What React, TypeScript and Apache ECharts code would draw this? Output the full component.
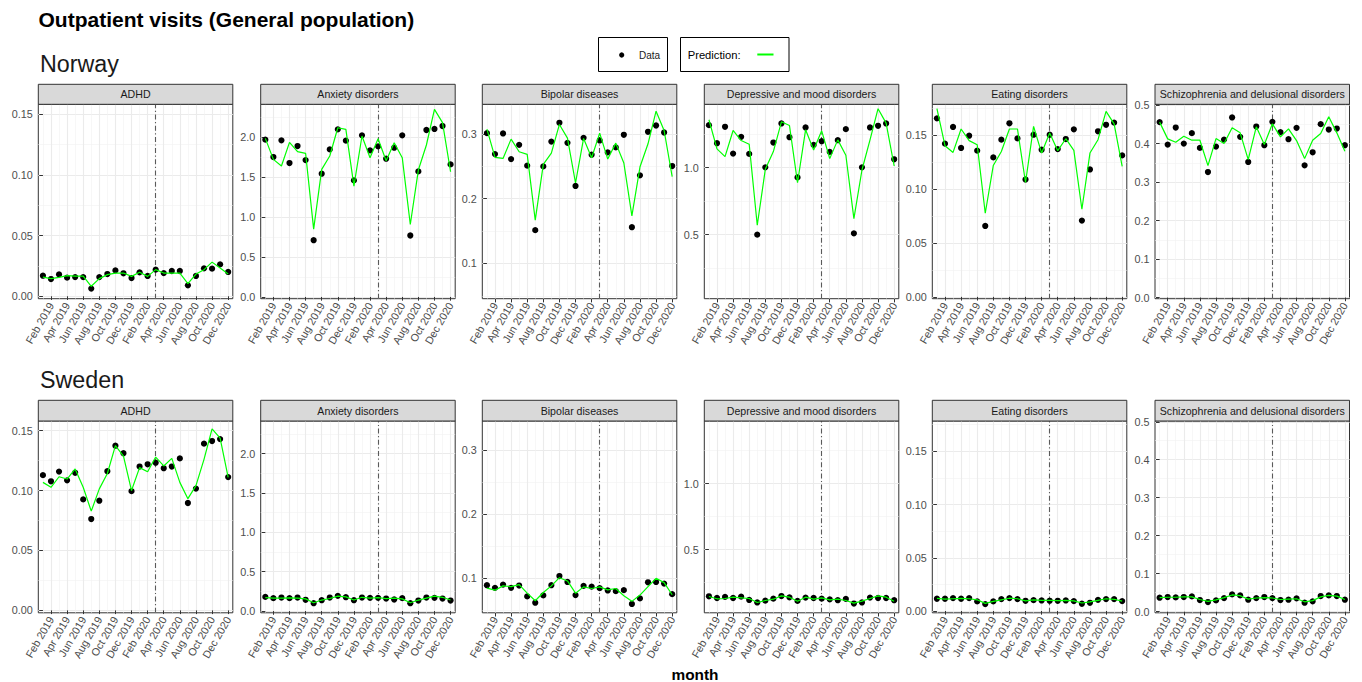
import React, { useEffect, useRef } from "react";
import * as echarts from "echarts";

const FONT = '"Liberation Sans", Arial, Helvetica, sans-serif';

// ---------- categories / ticks ----------
const months = [
  "Jan 2019", "Feb 2019", "Mar 2019", "Apr 2019", "May 2019", "Jun 2019",
  "Jul 2019", "Aug 2019", "Sep 2019", "Oct 2019", "Nov 2019", "Dec 2019",
  "Jan 2020", "Feb 2020", "Mar 2020", "Apr 2020", "May 2020", "Jun 2020",
  "Jul 2020", "Aug 2020", "Sep 2020", "Oct 2020", "Nov 2020", "Dec 2020",
];
const xMajorTicks = [1, 3, 5, 7, 9, 11, 13, 15, 17, 19, 21, 23];
const xMinorTicks = [0, 2, 4, 6, 8, 10, 12, 14, 16, 18, 20, 22];
const interventionMonth = 14; // Mar 2020

const diagnoses = [
  "ADHD",
  "Anxiety disorders",
  "Bipolar diseases",
  "Depressive and mood disorders",
  "Eating disorders",
  "Schizophrenia and delusional disorders",
];
const countries = ["Norway", "Sweden"];

const adhdTicks = [0, 0.05, 0.1, 0.15];
const adhdMinor = [0.025, 0.075, 0.125];
const anxietyTicks = [0, 0.5, 1.0, 1.5, 2.0];
const anxietyMinor = [0.25, 0.75, 1.25, 1.75, 2.25];
const bipolarTicks = [0.1, 0.2, 0.3];
const bipolarMinor = [0.05, 0.15, 0.25];
const depressiveTicks = [0.5, 1.0];
const depressiveMinor = [0.25, 0.75, 1.25];
const eatingTicks = [0, 0.05, 0.1, 0.15];
const eatingMinor = [0.025, 0.075, 0.125, 0.175];
const schizoTicks = [0, 0.1, 0.2, 0.3, 0.4, 0.5];
const schizoMinor = [0.05, 0.15, 0.25, 0.35, 0.45];

// ---------- Norway ----------
const norwayAdhdData = [0.0169, 0.0142, 0.018, 0.0153, 0.0158, 0.0158, 0.0063, 0.0158, 0.0183, 0.0213, 0.0189, 0.015, 0.0197, 0.0167, 0.0219, 0.0191, 0.0208, 0.0208, 0.009, 0.0167, 0.023, 0.0227, 0.0262, 0.02];
const norwayAdhdPred = [0.0158, 0.0145, 0.0155, 0.017, 0.0165, 0.0165, 0.0082, 0.0145, 0.0178, 0.0191, 0.0191, 0.0164, 0.0197, 0.0164, 0.0219, 0.0191, 0.0191, 0.0191, 0.0104, 0.0183, 0.0219, 0.0281, 0.0232, 0.0183];
const norwayAnxietyData = [1.971, 1.753, 1.962, 1.678, 1.891, 1.715, 0.711, 1.544, 1.849, 2.1, 1.958, 1.46, 2.025, 1.837, 1.887, 1.732, 1.87, 2.025, 0.77, 1.573, 2.092, 2.105, 2.142, 1.661];
const norwayAnxietyPred = [1.987, 1.724, 1.64, 1.937, 1.82, 1.8, 0.85, 1.598, 1.766, 2.12, 2.1, 1.389, 2.017, 1.745, 1.983, 1.707, 1.933, 1.745, 0.908, 1.59, 1.904, 2.351, 2.184, 1.569];
const norwayBipolarData = [0.301, 0.2687, 0.3005, 0.261, 0.283, 0.2508, 0.1513, 0.2497, 0.288, 0.317, 0.286, 0.2195, 0.2938, 0.2677, 0.2897, 0.2713, 0.279, 0.2985, 0.1559, 0.2359, 0.3031, 0.3128, 0.302, 0.2503];
const norwayBipolarPred = [0.3072, 0.2636, 0.262, 0.2918, 0.2723, 0.2682, 0.1667, 0.2528, 0.2703, 0.3144, 0.2933, 0.2241, 0.2928, 0.2631, 0.301, 0.261, 0.2856, 0.2549, 0.1733, 0.2487, 0.2846, 0.3349, 0.3051, 0.234];
const norwayDepressiveData = [1.3175, 1.1825, 1.305, 1.105, 1.23, 1.1025, 0.5, 1.0025, 1.1875, 1.33, 1.2275, 0.9275, 1.3, 1.17, 1.1975, 1.1175, 1.205, 1.2875, 0.51, 1.0025, 1.3, 1.3125, 1.33, 1.0625];
const norwayDepressivePred = [1.3575, 1.14, 1.0825, 1.2775, 1.2025, 1.175, 0.57, 0.9875, 1.12, 1.3425, 1.315, 0.8875, 1.2825, 1.1325, 1.275, 1.0675, 1.2075, 1.0925, 0.62, 0.9825, 1.2075, 1.44, 1.3325, 1.0125];
const norwayEatingData = [0.1655, 0.142, 0.1575, 0.138, 0.1494, 0.1355, 0.0657, 0.1293, 0.1457, 0.1609, 0.1469, 0.1088, 0.1503, 0.1364, 0.1503, 0.137, 0.1463, 0.1553, 0.0707, 0.1181, 0.1535, 0.1595, 0.1615, 0.1311];
const norwayEatingPred = [0.1745, 0.1401, 0.1339, 0.1556, 0.1448, 0.141, 0.0775, 0.1218, 0.1348, 0.1556, 0.1556, 0.106, 0.158, 0.1333, 0.1519, 0.1355, 0.1466, 0.1358, 0.0812, 0.1333, 0.1457, 0.172, 0.1603, 0.1209];
const norwaySchizoData = [0.4557, 0.3974, 0.4417, 0.4, 0.427, 0.3887, 0.326, 0.3922, 0.4104, 0.4678, 0.4174, 0.3522, 0.4443, 0.3957, 0.4565, 0.4296, 0.4113, 0.4409, 0.3435, 0.3774, 0.4504, 0.4365, 0.4391, 0.3957];
const norwaySchizoPred = [0.4557, 0.4122, 0.4035, 0.4191, 0.4087, 0.4087, 0.3426, 0.413, 0.4, 0.4409, 0.4278, 0.3583, 0.4435, 0.3974, 0.4513, 0.4174, 0.4383, 0.4078, 0.3609, 0.4087, 0.4261, 0.4696, 0.4278, 0.38];

// ---------- Sweden ----------
const swedenAdhdData = [0.1128, 0.1077, 0.1158, 0.1085, 0.1148, 0.0926, 0.0762, 0.0915, 0.1161, 0.1374, 0.1311, 0.0995, 0.12, 0.1219, 0.1232, 0.1186, 0.12, 0.1268, 0.0896, 0.1016, 0.1391, 0.1413, 0.1429, 0.1112];
const swedenAdhdPred = [0.1068, 0.1027, 0.1115, 0.1096, 0.118, 0.1027, 0.0828, 0.1014, 0.1142, 0.1374, 0.1287, 0.1, 0.1191, 0.1156, 0.1279, 0.1205, 0.1268, 0.1068, 0.0932, 0.1041, 0.126, 0.1514, 0.1437, 0.1109];
const swedenAnxietyData = [0.18, 0.164, 0.172, 0.164, 0.172, 0.143, 0.1, 0.138, 0.172, 0.193, 0.176, 0.138, 0.172, 0.168, 0.168, 0.159, 0.147, 0.164, 0.1, 0.134, 0.172, 0.168, 0.159, 0.134];
const swedenAnxietyPred = [0.17, 0.165, 0.165, 0.168, 0.165, 0.155, 0.105, 0.14, 0.16, 0.19, 0.18, 0.14, 0.175, 0.165, 0.17, 0.158, 0.165, 0.155, 0.105, 0.14, 0.165, 0.19, 0.175, 0.14];
const swedenBipolarData = [0.0887, 0.0846, 0.0897, 0.0846, 0.0882, 0.0712, 0.0614, 0.0728, 0.0887, 0.1031, 0.0938, 0.0733, 0.0877, 0.0866, 0.0841, 0.0805, 0.0794, 0.081, 0.0594, 0.0681, 0.0933, 0.0938, 0.0913, 0.0748];
const swedenBipolarPred = [0.0841, 0.081, 0.0877, 0.0866, 0.0897, 0.0763, 0.0645, 0.0774, 0.0877, 0.1005, 0.0954, 0.0763, 0.0861, 0.0836, 0.0861, 0.0815, 0.0836, 0.0722, 0.0635, 0.0733, 0.0866, 0.0995, 0.0928, 0.0738];
const swedenDepressiveData = [0.147, 0.134, 0.142, 0.134, 0.144, 0.119, 0.1, 0.114, 0.129, 0.149, 0.139, 0.112, 0.137, 0.134, 0.129, 0.124, 0.117, 0.127, 0.092, 0.1, 0.137, 0.134, 0.134, 0.117];
const swedenDepressivePred = [0.145, 0.128, 0.13, 0.14, 0.135, 0.13, 0.1, 0.115, 0.125, 0.15, 0.14, 0.11, 0.14, 0.125, 0.135, 0.12, 0.125, 0.115, 0.095, 0.11, 0.13, 0.15, 0.14, 0.11];
const swedenEatingData = [0.0115, 0.0115, 0.0121, 0.0115, 0.0121, 0.009, 0.0065, 0.009, 0.0112, 0.0121, 0.0112, 0.0096, 0.0102, 0.0099, 0.0096, 0.0096, 0.0099, 0.0093, 0.0068, 0.0077, 0.0105, 0.0112, 0.0112, 0.0093];
const swedenEatingPred = [0.0118, 0.0112, 0.0115, 0.0118, 0.0115, 0.0105, 0.0072, 0.009, 0.0105, 0.012, 0.0115, 0.0095, 0.0105, 0.01, 0.01, 0.0098, 0.01, 0.0095, 0.0075, 0.0085, 0.01, 0.0115, 0.011, 0.0092];
const swedenSchizoData = [0.0367, 0.0385, 0.0376, 0.0385, 0.0402, 0.0306, 0.0253, 0.0297, 0.0358, 0.0455, 0.0428, 0.0315, 0.0358, 0.0385, 0.0358, 0.0306, 0.0315, 0.035, 0.0236, 0.0271, 0.0411, 0.0428, 0.0411, 0.0315];
const swedenSchizoPred = [0.037, 0.038, 0.038, 0.039, 0.039, 0.032, 0.027, 0.031, 0.037, 0.044, 0.042, 0.033, 0.036, 0.037, 0.036, 0.032, 0.033, 0.034, 0.026, 0.029, 0.039, 0.043, 0.041, 0.032];

// ---------- panel definitions ----------
const columns = [
  { min: -0.002, max: 0.158, ticks: adhdTicks, minor: adhdMinor, dec: 2, data: [[norwayAdhdData, norwayAdhdPred], [swedenAdhdData, swedenAdhdPred]] },
  { min: -0.022, max: 2.414, ticks: anxietyTicks, minor: anxietyMinor, dec: 1, data: [[norwayAnxietyData, norwayAnxietyPred], [swedenAnxietyData, swedenAnxietyPred]] },
  { min: 0.0456, max: 0.3455, ticks: bipolarTicks, minor: bipolarMinor, dec: 1, data: [[norwayBipolarData, norwayBipolarPred], [swedenBipolarData, swedenBipolarPred]] },
  { min: 0.022, max: 1.473, ticks: depressiveTicks, minor: depressiveMinor, dec: 1, data: [[norwayDepressiveData, norwayDepressivePred], [swedenDepressiveData, swedenDepressivePred]] },
  { min: -0.0017, max: 0.1785, ticks: eatingTicks, minor: eatingMinor, dec: 2, data: [[norwayEatingData, norwayEatingPred], [swedenEatingData, swedenEatingPred]] },
  { min: -0.003, max: 0.502, ticks: schizoTicks, minor: schizoMinor, dec: 1, data: [[norwaySchizoData, norwaySchizoPred], [swedenSchizoData, swedenSchizoPred]] },
];

// layout (pixels)
const colLeft = [38.3, 260.7, 482.3, 704.3, 932.3, 1155];
const colWidth = 194.5;
const rowStripTop = [84.3, 400.3];
const rowPanelTop = [104.3, 421];
const rowPanelBottom = [298.7, 612.8];
const rowTitleY = [63.6, 379.6];
const X_MIN = -0.575;
const X_MAX = 23.575;

function buildOption() {
  const grid: any[] = [];
  const xAxis: any[] = [];
  const yAxis: any[] = [];
  const series: any[] = [];
  const graphic: any[] = [];

  const tickStyle = { color: "#333333", width: 1 };
  const labelBase = { color: "#4D4D4D", fontSize: 10.8, fontFamily: FONT };

  countries.forEach((country, r) => {
    graphic.push({
      type: "text",
      x: 40,
      y: rowTitleY[r],
      style: { text: country, fill: "#1A1A1A", fontSize: 23.3, fontFamily: FONT, textAlign: "left", align: "left", textVerticalAlign: "middle", verticalAlign: "middle" },
    });
    columns.forEach((col, c) => {
      const k = r * 6 + c;
      const top = rowPanelTop[r];
      const height = rowPanelBottom[r] - top;
      grid.push({
        left: colLeft[c], top, width: colWidth, height,
        show: true, borderColor: "#333333", borderWidth: 1, backgroundColor: "#FFFFFF",
        containLabel: false, outerBoundsMode: "none",
      });
      xAxis.push({
        type: "value", gridIndex: k, min: X_MIN, max: X_MAX,
        axisLine: { show: false },
        axisTick: { show: true, customValues: xMajorTicks, length: 3.7, lineStyle: tickStyle },
        axisLabel: { ...labelBase, customValues: xMajorTicks, rotate: 60, margin: 4.5, formatter: (v: number) => months[Math.round(v)] },
        splitLine: { show: true, lineStyle: { color: "#EBEBEB", width: 1.1 } },
      });
      xAxis.push({
        type: "value", gridIndex: k, min: X_MIN, max: X_MAX,
        axisLine: { show: false },
        axisTick: { show: false, customValues: xMinorTicks },
        axisLabel: { show: false },
        splitLine: { show: true, lineStyle: { color: "#F2F2F2", width: 0.6 } },
      });
      yAxis.push({
        type: "value", gridIndex: k, min: col.min, max: col.max,
        axisLine: { show: false },
        axisTick: { show: true, customValues: col.ticks, length: 3.7, lineStyle: tickStyle },
        axisLabel: { ...labelBase, customValues: col.ticks, margin: 5.5, formatter: (v: number) => v.toFixed(col.dec) },
        splitLine: { show: true, lineStyle: { color: "#EBEBEB", width: 1.1 } },
      });
      yAxis.push({
        type: "value", gridIndex: k, min: col.min, max: col.max,
        axisLine: { show: false },
        axisTick: { show: false, customValues: col.minor },
        axisLabel: { show: false },
        splitLine: { show: true, lineStyle: { color: "#F2F2F2", width: 0.6 } },
      });
      const [obs, pred] = col.data[r];
      series.push({
        type: "scatter", name: "Data", xAxisIndex: 2 * k, yAxisIndex: 2 * k,
        data: obs.map((v, i) => [i, v]), symbol: "circle", symbolSize: 6.2,
        itemStyle: { color: "#000000", opacity: 1 }, z: 3, silent: true,
        markLine: {
          silent: true, symbol: ["none", "none"], label: { show: false }, z: 1,
          lineStyle: { color: "#5A5A5A", width: 1.1, type: [5, 2.5, 1.2, 2.5], opacity: 1 },
          data: [{ xAxis: interventionMonth }],
        },
      });
      series.push({
        type: "line", name: "Prediction", xAxisIndex: 2 * k, yAxisIndex: 2 * k,
        data: pred.map((v, i) => [i, v]), symbol: "none", showSymbol: false,
        lineStyle: { color: "#00FF00", width: 1.2 }, z: 4, silent: true,
      });
      // strip
      graphic.push({
        type: "rect",
        shape: { x: colLeft[c], y: rowStripTop[r], width: colWidth, height: top - rowStripTop[r] },
        style: { fill: "#D9D9D9", stroke: "#333333", lineWidth: 1 },
        z: 10,
      });
      graphic.push({
        type: "text",
        x: colLeft[c] + colWidth / 2,
        y: (rowStripTop[r] + top) / 2,
        style: { text: diagnoses[c], fill: "#1A1A1A", fontSize: 10.6, fontFamily: FONT, textAlign: "center", align: "center", textVerticalAlign: "middle", verticalAlign: "middle" },
        z: 11,
      });
    });
  });

  // main title
  graphic.push({
    type: "text", x: 38.5, y: 19.4,
    style: { text: "Outpatient visits (General population)", fill: "#000000", fontSize: 21, fontWeight: "bold", fontFamily: FONT, textAlign: "left", align: "left", textVerticalAlign: "middle", verticalAlign: "middle" },
  });
  // legend boxes
  graphic.push({ type: "rect", shape: { x: 598.5, y: 37.5, width: 69, height: 34 }, style: { fill: "#FFFFFF", stroke: "#000000", lineWidth: 1 } });
  graphic.push({ type: "circle", shape: { cx: 621.7, cy: 55, r: 2.6 }, style: { fill: "#000000" } });
  graphic.push({
    type: "text", x: 639, y: 55,
    style: { text: "Data", fill: "#1A1A1A", fontSize: 10, fontFamily: FONT, textAlign: "left", align: "left", textVerticalAlign: "middle", verticalAlign: "middle" },
  });
  graphic.push({ type: "rect", shape: { x: 680.5, y: 37.5, width: 108.5, height: 34 }, style: { fill: "#FFFFFF", stroke: "#000000", lineWidth: 1 } });
  graphic.push({
    type: "text", x: 687.7, y: 55,
    style: { text: "Prediction:", fill: "#000000", fontSize: 11.2, fontFamily: FONT, textAlign: "left", align: "left", textVerticalAlign: "middle", verticalAlign: "middle" },
  });
  graphic.push({ type: "line", shape: { x1: 757.3, y1: 54.5, x2: 773.5, y2: 54.5 }, style: { stroke: "#00FF00", lineWidth: 2 } });
  // x-axis title
  graphic.push({
    type: "text", x: 695, y: 674.5,
    style: { text: "month", fill: "#000000", fontSize: 15.4, fontWeight: "bold", fontFamily: FONT, textAlign: "center", align: "center", textVerticalAlign: "middle", verticalAlign: "middle" },
  });

  return {
    animation: false,
    backgroundColor: "#FFFFFF",
    textStyle: { fontFamily: FONT },
    grid, xAxis, yAxis, series, graphic,
  };
}

export default function App() {
  const ref = useRef<HTMLDivElement>(null);
  useEffect(() => {
    if (!ref.current) return;
    const chart = echarts.init(ref.current, undefined, { renderer: "svg" });
    chart.setOption(buildOption() as any);
    return () => chart.dispose();
  }, []);
  return (
    <div
      ref={ref}
      style={{ position: "fixed", left: 0, top: 0, width: 1362, height: 682, background: "#fff" }}
    />
  );
}
